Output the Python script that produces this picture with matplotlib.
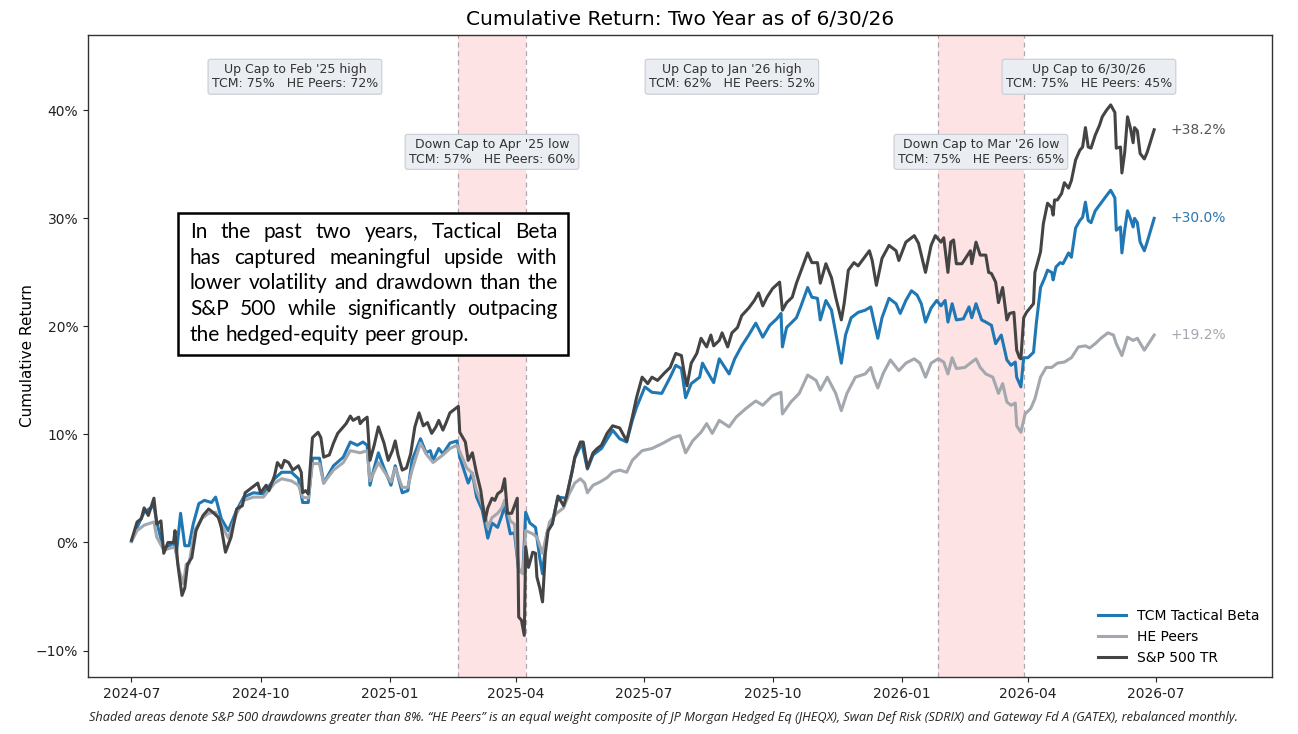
import numpy as np
import matplotlib
matplotlib.use("Agg")
import matplotlib.pyplot as plt
import matplotlib.dates as mdates
from matplotlib.ticker import PercentFormatter
from matplotlib.patches import Rectangle
from matplotlib.transforms import blended_transform_factory, IdentityTransform

# ---------------- data ----------------
start_date = "2024-07-01"
end_date = "2026-06-30"

# (days since start, cumulative return %)
tcm_pts = [(0,0.1),(4,1.4),(9,2.8),(16,3.4),(18,1.9),(23,-0.7),(30,0.0),(32,-1.0),(35,2.7),(38,-0.3),(41,-0.3),(44,1.7),(48,3.6),(52,3.9),(57,3.7),(60,4.2),(64,2.2),(69,1.1),(75,3.0),(80,4.2),(87,4.6),(94,4.5),(102,5.9),(107,6.5),(114,6.5),(119,5.9),(122,3.7),(126,3.7),(129,7.8),(134,7.8),(137,5.5),(144,7.1),(151,7.9),(156,9.3),(161,9.0),(165,9.3),(168,9.0),(170,5.3),(173,6.9),(176,8.3),(180,6.9),(185,5.3),(188,7.1),(193,4.6),(197,4.8),(200,7.6),(206,9.6),(210,8.3),(213,8.5),(215,7.6),(219,8.7),(222,8.2),(227,9.2),(232,9.4),(234,7.9),(240,5.5),(243,6.4),(246,4.2),(250,3.0),(254,0.4),(257,1.8),(261,1.4),(264,2.5),(266,3.4),(270,0.8),(273,0.9),(276,-2.6),(279,-2.8),(281,2.8),(284,1.8),(288,1.4),(291,-1.4),(293,-2.9),(296,0.8),(300,1.9),(304,4.2),(310,4.1),(316,7.8),(321,9.2),(325,6.8),(329,8.1),(335,8.7),(343,10.4),(348,9.6),(353,9.3),(357,11.3),(360,12.5),(366,14.4),(371,13.9),(378,13.8),(384,15.3),(388,16.4),(392,16.1),(395,13.4),(399,14.7),(405,15.3),(407,16.6),(410,15.9),(415,14.8),(419,17.0),(423,16.2),(426,15.6),(430,17.0),(435,18.2),(440,19.2),(445,20.3),(450,19.0),(455,20.1),(460,20.7),(463,21.2),(464,18.1),(467,19.9),(474,20.8),(477,21.8),(482,23.6),(485,22.7),(489,22.6),(491,20.6),(495,22.4),(499,21.5),(502,19.4),(506,16.6),(509,19.2),(513,20.8),(518,21.3),(523,21.5),(527,21.8),(529,20.6),(532,18.9),(535,20.8),(540,22.6),(545,22.1),(548,21.2),(552,22.4),(556,23.3),(560,22.9),(563,22.1),(566,20.4),(570,21.7),(574,22.4),(577,21.9),(580,22.4),(582,20.4),(585,22.1),(588,20.6),(593,20.7),(597,21.8),(599,20.8),(602,22.1),(606,20.6),(609,20.4),(613,20.1),(616,18.4),(620,19.2),(624,16.9),(627,16.4),(630,16.7),(631,15.3),(634,14.4),(636,17.1),(639,17.1),(643,17.6),(645,20.3),(648,23.6),(651,24.5),(653,25.2),(656,25.0),(657,24.3),(659,25.5),(662,25.9),(664,25.8),(668,26.8),(670,26.4),(673,29.1),(676,29.8),(678,30.1),(680,31.5),(682,29.8),(684,29.6),(687,30.7),(691,31.4),(695,32.1),(698,32.6),(701,31.9),(702,28.9),(705,29.2),(706,26.8),(708,28.9),(710,30.7),(712,30.0),(714,29.2),(715,30.0),(717,29.6),(719,27.8),(722,27.0),(724,27.8),(729,30.0)]

peers_pts = [(0,0.1),(4,1.1),(9,1.6),(16,1.9),(18,0.5),(23,-0.7),(31,-0.4),(34,-2.6),(37,-3.8),(39,-2.0),(41,-2.0),(45,1.1),(50,2.2),(55,2.7),(60,2.8),(64,1.7),(69,0.4),(75,2.7),(80,3.9),(87,4.2),(94,4.2),(102,5.5),(107,5.9),(114,5.7),(119,5.3),(122,4.2),(126,4.1),(129,7.3),(134,7.3),(137,5.5),(144,6.7),(151,7.4),(156,8.5),(163,8.3),(168,8.5),(170,5.7),(176,7.4),(185,5.6),(188,6.9),(193,5.1),(197,5.1),(200,6.7),(206,9.2),(210,8.2),(215,7.4),(222,8.1),(227,8.7),(232,9.0),(236,7.8),(239,6.9),(243,6.4),(246,4.8),(251,3.2),(254,1.4),(257,2.3),(261,2.7),(264,3.2),(266,3.9),(270,2.0),(273,1.7),(276,-2.4),(279,-2.9),(281,1.1),(286,0.8),(289,0.5),(293,-1.0),(295,0.2),(298,1.9),(303,2.7),(308,3.2),(312,4.5),(316,5.5),(320,5.9),(323,5.5),(325,4.6),(329,5.3),(334,5.6),(339,6.0),(343,6.5),(348,6.7),(353,6.5),(357,7.6),(364,8.5),(371,8.7),(379,9.2),(386,9.7),(391,9.9),(395,8.3),(400,9.4),(406,10.2),(410,11.0),(414,10.1),(419,11.3),(426,10.7),(431,11.6),(438,12.4),(445,13.1),(450,12.7),(457,13.6),(463,13.9),(464,11.9),(470,13.0),(476,13.8),(482,15.5),(488,15.0),(491,14.1),(496,15.3),(502,13.8),(506,12.2),(510,13.8),(516,15.3),(523,15.6),(527,16.2),(529,15.3),(532,14.3),(536,15.7),(541,16.9),(547,15.9),(552,16.6),(558,17.0),(562,16.6),(566,15.3),(570,16.6),(575,17.0),(579,16.7),(582,15.6),(585,17.1),(588,16.1),(594,16.2),(598,16.6),(602,17.0),(605,16.2),(609,15.6),(614,15.3),(618,13.8),(621,14.7),(624,13.0),(627,12.7),(630,12.9),(631,10.8),(634,10.2),(637,11.9),(641,12.4),(644,13.3),(648,15.3),(652,16.2),(656,16.2),(660,16.6),(665,16.7),(670,17.1),(675,18.1),(680,18.2),(683,18.0),(687,18.4),(691,18.9),(696,19.4),(700,19.2),(702,18.4),(706,17.3),(710,19.0),(714,18.7),(717,18.9),(722,17.8),(729,19.2)]

sp_pts = [(0,0.2),(4,1.9),(7,2.2),(9,3.2),(12,2.5),(16,4.1),(18,1.7),(21,2.0),(23,-1.0),(26,0.0),(30,0.0),(31,1.1),(33,-2.0),(36,-4.9),(38,-4.2),(40,-2.0),(43,-1.4),(46,1.1),(51,2.5),(55,3.1),(58,2.8),(62,2.3),(64,1.4),(67,-0.9),(71,0.5),(75,3.1),(79,3.4),(81,4.6),(85,5.0),(90,5.5),(92,4.6),(96,5.3),(98,4.8),(102,6.2),(104,7.4),(107,6.9),(109,7.6),(112,7.4),(115,6.7),(119,7.1),(121,6.5),(122,4.6),(124,4.8),(126,4.5),(129,9.7),(133,10.2),(135,9.7),(137,7.9),(141,8.1),(144,9.2),(147,10.1),(149,10.4),(153,11.0),(156,11.7),(158,11.3),(162,11.6),(163,11.0),(165,11.3),(168,11.6),(170,7.6),(173,9.0),(176,10.7),(180,9.2),(183,7.6),(186,8.5),(188,9.4),(190,8.1),(193,6.7),(196,6.9),(199,8.2),(202,10.7),(205,12.0),(208,10.8),(211,11.1),(214,10.1),(217,10.7),(219,11.3),(222,10.4),(224,11.0),(227,12.0),(229,12.2),(233,12.6),(234,10.2),(238,9.3),(240,7.6),(243,8.3),(246,6.4),(249,4.8),(252,2.0),(254,3.2),(257,4.1),(259,3.9),(261,4.5),(264,4.8),(266,5.9),(268,2.7),(271,2.7),(275,4.1),(276,-6.9),(278,-7.2),(280,-8.6),(281,-0.4),(283,-2.3),(286,-0.9),(288,-1.0),(289,-3.2),(291,-4.2),(293,-5.5),(295,-1.0),(297,1.1),(300,1.7),(304,4.3),(308,3.4),(310,4.2),(314,6.5),(316,7.9),(320,9.3),(322,9.3),(325,6.9),(327,7.6),(329,8.3),(332,8.7),(335,9.0),(339,10.1),(343,10.8),(348,10.6),(353,9.4),(357,11.6),(360,13.4),(364,15.3),(368,14.7),(371,15.3),(375,15.0),(380,15.7),(384,16.2),(388,17.5),(392,17.3),(394,15.7),(396,14.5),(399,16.6),(403,17.5),(406,18.9),(410,18.1),(413,19.2),(415,18.2),(419,18.7),(421,19.4),(425,18.1),(428,19.4),(432,19.9),(435,21.0),(440,21.7),(444,22.4),(447,23.1),(450,21.9),(453,22.7),(457,23.5),(462,24.1),(464,21.5),(467,22.2),(471,22.7),(474,24.0),(478,25.4),(482,26.8),(485,25.9),(489,25.9),(491,24.0),(495,25.8),(499,24.5),(502,22.7),(506,20.6),(508,22.1),(511,25.2),(515,25.9),(518,25.6),(522,26.3),(526,27.0),(528,26.1),(531,23.8),(535,26.3),(540,27.5),(545,27.0),(547,26.1),(552,27.8),(558,28.4),(561,27.7),(566,25.0),(570,27.5),(573,28.4),(577,27.8),(579,28.2),(582,25.0),(584,27.8),(586,28.0),(588,25.8),(592,25.8),(595,26.4),(598,27.0),(599,25.8),(602,27.8),(605,26.6),(609,26.6),(611,25.0),(613,24.9),(616,24.1),(618,22.2),(621,23.6),(624,20.6),(626,21.2),(629,21.3),(631,17.8),(633,17.1),(634,17.0),(636,20.8),(638,21.3),(643,22.1),(644,25.0),(648,26.9),(650,29.5),(653,31.4),(656,31.0),(657,30.3),(658,31.7),(660,31.7),(663,32.3),(665,33.3),(668,32.8),(670,33.5),(673,35.4),(676,36.3),(678,36.6),(680,38.4),(682,36.6),(684,36.5),(687,37.7),(690,38.6),(692,39.4),(695,40.0),(698,40.5),(701,39.8),(702,36.5),(705,36.6),(706,34.2),(708,36.1),(710,39.4),(712,38.4),(714,37.0),(715,38.4),(717,38.1),(719,36.0),(722,35.5),(724,36.1),(729,38.2)]

series_names = ["TCM Tactical Beta", "HE Peers", "S&P 500 TR"]
final_labels = ["+30.0%", "+19.2%", "+38.2%"]

drawdown_periods = [("2025-02-19", "2025-04-08"), ("2026-01-27", "2026-03-29")]

capture_labels = [
    "Up Cap to Feb '25 high\nTCM: 75%   HE Peers: 72%",
    "Down Cap to Apr '25 low\nTCM: 57%   HE Peers: 60%",
    "Up Cap to Jan '26 high\nTCM: 62%   HE Peers: 52%",
    "Down Cap to Mar '26 low\nTCM: 75%   HE Peers: 65%",
    "Up Cap to 6/30/26\nTCM: 75%   HE Peers: 45%",
]
capture_kind = ["up", "down", "up", "down", "up"]

y_ticks = [-10, 0, 10, 20, 30, 40]
x_limits = ("2024-05-31", "2026-09-22")
y_limits = (-12.45, 46.97)

title = "Cumulative Return: Two Year as of 6/30/26"
y_label = "Cumulative Return"
callout_lines = [
    "In the past two years, Tactical Beta",
    "has captured meaningful upside with",
    "lower volatility and drawdown than the",
    "S&P 500 while significantly outpacing",
    "the hedged-equity peer group.",
]
footnote = ("Shaded areas denote S&P 500 drawdowns greater than 8%. \u201cHE Peers\u201d is an equal weight "
            "composite of JP Morgan Hedged Eq (JHEQX), Swan Def Risk (SDRIX) and Gateway Fd A (GATEX), "
            "rebalanced monthly.")

# ---------------- styling ----------------
colors = ["#1f77b4", "#a3a7ae", "#444444"]
label_colors = ["#2a77b0", "#a3a7ae", "#555555"]

plt.rcParams["font.family"] = ["DejaVu Sans"]

fig = plt.figure(figsize=(12.98, 7.34), dpi=100)
ax = fig.add_axes([88/1298, 1-677/734, (1272-88)/1298, (677-35)/734])

start = np.datetime64(start_date)

def to_dates(pts):
    d = np.array([p[0] for p in pts])
    v = np.array([p[1] for p in pts])
    return start + d.astype("timedelta64[D]"), v

all_series = [tcm_pts, peers_pts, sp_pts]
handles = []
for i, (pts, name, c) in enumerate(zip(all_series, series_names, colors)):
    dts, vals = to_dates(pts)
    h, = ax.plot(dts, vals, color=c, lw=2.2, label=name, zorder=3, solid_joinstyle="round")
    handles.append(h)
    ax.annotate(final_labels[i], xy=(dts[-1], vals[-1]), xytext=(12, 0),
                textcoords="offset points", va="center", ha="left", fontsize=10,
                color=label_colors[i])

for s, e in drawdown_periods:
    ax.axvspan(np.datetime64(s), np.datetime64(e), facecolor="#fde3e4", edgecolor="none", zorder=0)
    for d in (s, e):
        ax.axvline(np.datetime64(d), color="#b3a6ae", lw=0.9, ls=(0, (4, 3)), zorder=1)

# capture boxes at segment midpoints
bounds = [start_date] + [d for p in drawdown_periods for d in p] + [end_date]
bnums = [mdates.date2num(np.datetime64(b)) for b in bounds]
trans = blended_transform_factory(ax.transData, ax.transAxes)
for i, (lab, kind) in enumerate(zip(capture_labels, capture_kind)):
    xm = 0.5 * (bnums[i] + bnums[i+1])
    yy = 0.935 if kind == "up" else 0.818
    ax.text(xm, yy, lab, transform=trans, ha="center", va="center", fontsize=9,
            color="#333333", linespacing=1.15, zorder=6,
            bbox=dict(boxstyle="round,pad=0.3,rounding_size=0.2", facecolor="#eaedf1",
                      edgecolor="#c8ccd3", lw=0.8))

ax.set_xlim(np.datetime64(x_limits[0]), np.datetime64(x_limits[1]))
ax.set_ylim(*y_limits)
ax.set_yticks(y_ticks)
ax.yaxis.set_major_formatter(PercentFormatter(xmax=100, decimals=0))
ax.xaxis.set_major_locator(mdates.MonthLocator(bymonth=[1, 4, 7, 10]))
ax.xaxis.set_major_formatter(mdates.DateFormatter("%Y-%m"))
ax.tick_params(labelsize=10, colors="#222222")
for sp in ax.spines.values():
    sp.set_color("#333333")
    sp.set_linewidth(1.0)

ax.set_title(title, fontsize=14.5, pad=7)
ax.set_ylabel(y_label, fontsize=11, labelpad=1)

ax.legend(handles=handles, loc="lower right", frameon=False, fontsize=10)

# callout box with justified text
box_l, box_r, box_b, box_t = 0.076, 0.405, 0.5016, 0.7227
ax.add_patch(Rectangle((box_l, box_b), box_r - box_l, box_t - box_b, transform=ax.transAxes,
                       facecolor="white", edgecolor="black", lw=1.8, zorder=7))
fig.canvas.draw()
renderer = fig.canvas.get_renderer()
(px_l, px_b) = ax.transAxes.transform((box_l, box_b))
(px_r, px_t) = ax.transAxes.transform((box_r, box_t))
inner_l = px_l + 12
inner_r = px_r - 10
n = len(callout_lines)
first_c = ax.transAxes.transform((0, 0.6936))[1]
last_c = ax.transAxes.transform((0, 0.5327))[1]
step = (first_c - last_c) / (n - 1)
cfont = dict(family=["Lato", "DejaVu Sans"], fontsize=15, color="black")

def text_width(s):
    t = fig.text(0, 0, s, **cfont)
    w = t.get_window_extent(renderer).width
    t.remove()
    return w

space_w = text_width("a a") - text_width("aa")
for li, line in enumerate(callout_lines):
    yc = first_c - li * step
    words = line.split(" ")
    widths = [text_width(w) for w in words]
    if li < n - 1 and len(words) > 1:
        gap = (inner_r - inner_l - sum(widths)) / (len(words) - 1)
    else:
        gap = space_w
    x = inner_l
    for w, wd in zip(words, widths):
        fig.text(x, yc, w, transform=IdentityTransform(), va="center", ha="left", zorder=8, **cfont)
        x += wd + gap

fig.text(89/1298, 1-717/734, footnote, ha="left", va="center", fontsize=9.2,
         style="italic", family=["Open Sans", "DejaVu Sans"], color="#222222")

fig.savefig("out.png", dpi=100)
